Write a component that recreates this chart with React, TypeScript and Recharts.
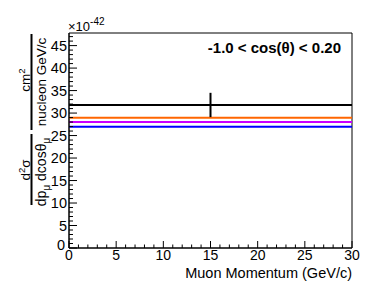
import { ComposedChart, Line, XAxis, YAxis, ReferenceArea, Label } from "recharts";

// one momentum bin, 0 - 30 GeV/c
const binEdges = [0, 30];
const binCenter = 15;
const measured = 31.8;
const measuredErr = 2.7;

// model predictions (same bin), units of 1e-42
const modelNames = ["model A", "model B", "model C"];
const modelValues = [28.95, 28.0, 26.95];
const modelColors = ["#FF6600", "#CC00FF", "#0000FF"];

const xMajor = [0, 5, 10, 15, 20, 25, 30];
const yMajor = [0, 5, 10, 15, 20, 25, 30, 35, 40, 45];
const xTicks = Array.from({ length: 31 }, (_, i) => i);
const yTicks = Array.from({ length: 48 }, (_, i) => i);
const Y_MAX = 47.8;

const FONT = "'Liberation Sans', Arial, Helvetica, sans-serif";

const measuredLine = binEdges.map((x) => ({ x, v: measured }));
const errorLine = [
  { x: binCenter, v: measured - measuredErr },
  { x: binCenter, v: measured + measuredErr },
];
const modelLines = modelValues.map((val) => binEdges.map((x) => ({ x, v: val })));

function XTick(props: any) {
  const { x, y, payload } = props;
  const major = xMajor.includes(payload.value);
  return (
    <g>
      <line x1={x} x2={x} y1={y} y2={y - (major ? 7 : 3.5)} stroke="#000" />
      {major && (
        <text x={x} y={y + 12} textAnchor="middle" fontSize={14} fontFamily={FONT} fill="#000">
          {payload.value}
        </text>
      )}
    </g>
  );
}

function YTick(props: any) {
  const { x, y, payload } = props;
  const major = yMajor.includes(payload.value);
  return (
    <g>
      <line x1={x} x2={x + (major ? 8 : 4)} y1={y} y2={y} stroke="#000" />
      {major && (
        <text
          x={payload.value === 0 ? x - 4 : x - 2}
          y={payload.value === 0 ? y + 2 : y + 5}
          textAnchor="end"
          fontSize={14.5}
          fontFamily={FONT}
          fill="#000"
        >
          {payload.value}
        </text>
      )}
    </g>
  );
}

function YTitle() {
  const fs = 13.5;
  return (
    <g fontFamily={FONT} fontSize={fs} fill="#000">
      {/* upper fraction: cm^2 / nucleon GeV/c */}
      <line x1={31.5} x2={31.5} y1={34} y2={130} stroke="#000" strokeWidth={2} />
      <text transform="translate(30,80) rotate(-90)" textAnchor="middle">
        cm<tspan dy={-5} fontSize={9.5}>2</tspan>
      </text>
      <text transform="translate(46,82) rotate(-90)" textAnchor="middle">
        nucleon GeV/c
      </text>
      {/* lower fraction: d2sigma / dp dcos */}
      <line x1={31.5} x2={31.5} y1={134} y2={205} stroke="#000" strokeWidth={2} />
      <text transform="translate(30,170) rotate(-90)" textAnchor="middle">
        d<tspan dy={-5} fontSize={9.5}>2</tspan>
        <tspan dy={5}>σ</tspan>
      </text>
      <text transform="translate(46,172) rotate(-90)" textAnchor="middle" fontSize={14}>
        dp<tspan dy={4} fontSize={10}>μ</tspan>
        <tspan dy={-4}> dcosθ</tspan>
        <tspan dy={4} fontSize={10}>μ</tspan>
      </text>
    </g>
  );
}

export default function App() {
  return (
    <div style={{ position: "absolute", left: 0, top: 0, width: 387, height: 283, background: "#fff" }}>
      <ComposedChart width={387} height={283} margin={{ top: 33, right: 35, bottom: 5, left: 9 }}>
        <XAxis
          type="number"
          dataKey="x"
          domain={[0, 30]}
          ticks={xTicks}
          interval={0}
          tick={XTick}
          tickSize={0}
          tickMargin={0}
          tickLine={false}
          axisLine={{ stroke: "#000" }}
          height={30}
          allowDataOverflow
        />
        <YAxis
          type="number"
          domain={[0, Y_MAX]}
          ticks={yTicks}
          interval={0}
          tick={YTick}
          tickSize={0}
          tickMargin={0}
          tickLine={false}
          axisLine={{ stroke: "#000" }}
          width={60}
          allowDataOverflow
        >
          <Label content={YTitle} />
        </YAxis>
        <ReferenceArea x1={0} x2={30} y1={0} y2={Y_MAX} fill="none" stroke="#000" strokeWidth={1} ifOverflow="visible" />
        {modelLines.map((d, i) => (
          <Line
            key={modelNames[i]}
            data={d}
            dataKey="v"
            type="linear"
            stroke={modelColors[i]}
            strokeWidth={2}
            dot={false}
            isAnimationActive={false}
          />
        ))}
        <Line data={measuredLine} dataKey="v" type="linear" stroke="#000" strokeWidth={2} dot={false} isAnimationActive={false} />
        <Line data={errorLine} dataKey="v" type="linear" stroke="#000" strokeWidth={2} dot={false} isAnimationActive={false} />
        <text x={68} y={31} fontSize={13} fontFamily={FONT} fill="#000">
          ×10<tspan dy={-6} fontSize={10}>-42</tspan>
        </text>
        <text x={341} y={53} textAnchor="end" fontSize={15} fontWeight="bold" fontFamily={FONT} fill="#000">
          -1.0 &lt; cos(θ) &lt; 0.20
        </text>
        <text x={352} y={278} textAnchor="end" fontSize={14.5} fontFamily={FONT} fill="#000">
          Muon Momentum (GeV/c)
        </text>
      </ComposedChart>
    </div>
  );
}
